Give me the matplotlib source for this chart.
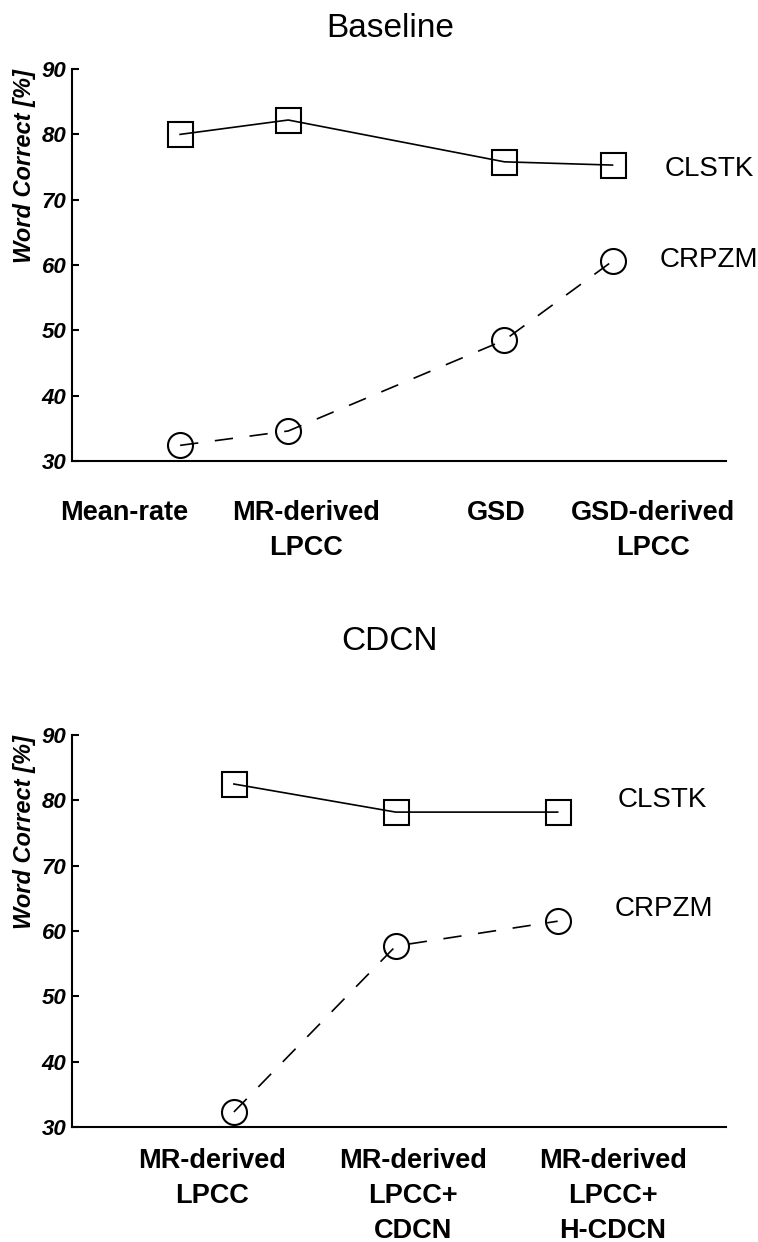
import matplotlib
matplotlib.use("Agg")
import matplotlib.pyplot as plt

plt.rcParams["font.family"] = ["Liberation Sans", "DejaVu Sans"]

# top panel: Baseline
base_pos = [1, 2, 4, 5]
base_labels = ["Mean-rate", "MR-derived\nLPCC", "GSD", "GSD-derived\nLPCC"]
base_clstk = [80.0, 82.2, 75.8, 75.3]
base_crpzm = [32.4, 34.6, 48.5, 60.6]

# bottom panel: CDCN
cdcn_pos = [1, 2, 3]
cdcn_labels = ["MR-derived\nLPCC", "MR-derived\nLPCC+\nCDCN", "MR-derived\nLPCC+\nH-CDCN"]
cdcn_clstk = [82.5, 78.2, 78.2]
cdcn_crpzm = [32.3, 57.7, 61.5]

yticks = [30, 40, 50, 60, 70, 80, 90]

# where the category labels sit (they are not centred under the markers)
base_label_x = [0.48, 2.165, 3.92, 5.37]
cdcn_label_x = [0.864, 2.105, 3.34]

fig = plt.figure(figsize=(7.58, 12.42), dpi=100)
ax1 = fig.add_axes([0.095, 0.6288, 0.8628, 0.3156])
ax2 = fig.add_axes([0.095, 0.0926, 0.8628, 0.3156])


def style_panel(ax, pos, labels, label_x, clstk, crpzm, xmax, xpad, txt):
    ax.plot(pos, clstk, color="black", lw=1.2, marker="s", ms=18,
            mfc="none", mec="black", mew=1.5)
    ax.plot(pos, crpzm, color="black", lw=1.2, ls=(0, (11, 10)), marker="o",
            ms=18, mfc="none", mec="black", mew=1.5)
    ax.set_xlim(0, xmax)
    ax.set_ylim(30, 90)
    ax.set_yticks(yticks)
    ax.set_xticks(label_x)
    ax.set_xticklabels(labels, fontsize=19.5, fontweight="bold", linespacing=1.45)
    for t in ax.get_yticklabels():
        t.set_fontsize(16)
        t.set_fontweight("bold")
        t.set_fontstyle("italic")
    ax.tick_params(axis="y", direction="in", length=5, width=1.5, pad=4)
    ax.tick_params(axis="x", length=0, pad=xpad)
    for s in ["top", "right"]:
        ax.spines[s].set_visible(False)
    for s in ["left", "bottom"]:
        ax.spines[s].set_linewidth(1.5)
    ax.text(-0.072, 1.0, "Word Correct [%]", transform=ax.transAxes,
            rotation=90, ha="center", va="top", fontsize=17,
            fontweight="bold", fontstyle="italic")
    for (x, y, s) in txt:
        ax.text(x, y, s, fontsize=20, ha="left", va="baseline")


style_panel(ax1, base_pos, base_labels, base_label_x, base_clstk, base_crpzm,
            6.05, 28, [(5.48, 73.6, "CLSTK"), (5.44, 59.7, "CRPZM")])
style_panel(ax2, cdcn_pos, cdcn_labels, cdcn_label_x, cdcn_clstk, cdcn_crpzm,
            4.04, 15, [(3.37, 79.0, "CLSTK"), (3.35, 62.3, "CRPZM")])

fig.text(0.5145, 0.9702, "Baseline", fontsize=24, ha="center", va="baseline")
fig.text(0.5145, 0.4767, "CDCN", fontsize=24, ha="center", va="baseline")

fig.savefig("out.png", dpi=100)
